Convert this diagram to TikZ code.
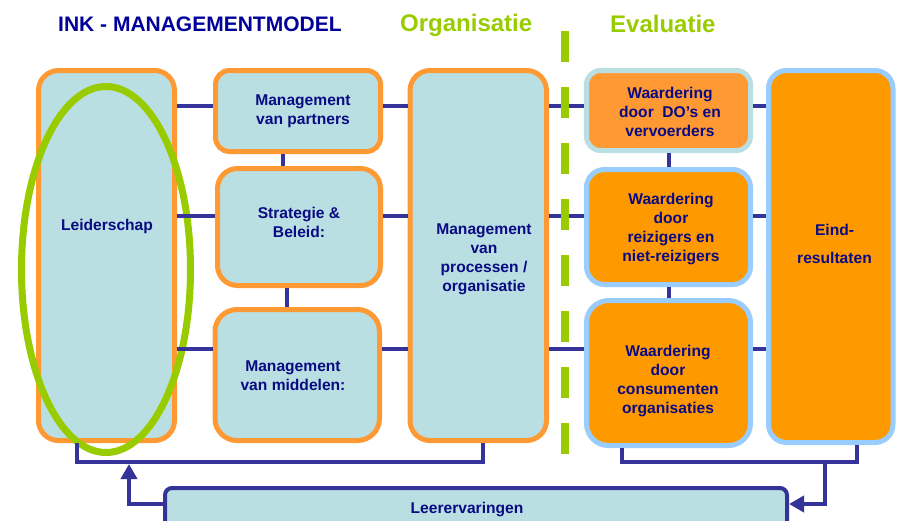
\documentclass[tikz,border=0pt]{standalone}
\usepackage{fontspec}
\setmainfont{Liberation Sans}
\usetikzlibrary{arrows.meta}
\definecolor{inkteal}{RGB}{185,223,227}
\definecolor{inkorange}{RGB}{255,153,51}
\definecolor{inkorfill}{RGB}{255,153,0}
\definecolor{inklblue}{RGB}{153,204,255}
\definecolor{inkline}{RGB}{51,51,153}
\definecolor{inktext}{RGB}{10,10,130}
\definecolor{inkgreen}{RGB}{153,204,0}
\definecolor{inktitle}{RGB}{0,0,153}
\tikzset{
  tealbox/.style={draw=inkorange, fill=inkteal, line width=5pt, inner sep=0pt},
  evalbox/.style={draw=inklblue, fill=inkorfill, line width=5pt, inner sep=0pt},
  dobox/.style={draw=inkteal, fill=inkorange, line width=5pt, inner sep=0pt},
  lbl/.style={text=inktext, font=\bfseries\fontsize{15.6}{19}\selectfont, align=center, inner sep=0pt},
  conn/.style={draw=inkline, line width=4pt},
  tip/.style={-{Triangle[width=16pt,length=15pt]}},
  greentitle/.style={anchor=base west, inner sep=0pt, text=inkgreen, font=\bfseries\fontsize{24}{28}\selectfont}
}
\begin{document}
\begin{tikzpicture}[x=1pt,y=-1pt]
\useasboundingbox (0,0) rectangle (899,520);
\clip (0,0) rectangle (899,520);
% titles
\node[anchor=base west, inner sep=0pt, text=inktitle, font=\bfseries\fontsize{21}{25}\selectfont] (title) at (58,31) {INK - MANAGEMENTMODEL};
\node[greentitle] (org) at (400,31) {Organisatie};
\node[greentitle] (eval) at (610,32) {Evaluatie};
% boxes
\node[tealbox, rounded corners=20pt, minimum width=136, minimum height=370] (lead) at (106.5,255.5) {};
\node[tealbox, rounded corners=14pt, minimum width=165, minimum height=81] (partners) at (298,111) {};
\node[tealbox, rounded corners=20pt, minimum width=163, minimum height=117] (strat) at (299,227) {};
\node[tealbox, rounded corners=22pt, minimum width=164.5, minimum height=131] (middel) at (297.25,375) {};
\node[tealbox, rounded corners=20pt, minimum width=136.5, minimum height=370] (proc) at (478.25,255.5) {};
\node[dobox, rounded corners=14pt, minimum width=164, minimum height=80] (do) at (668.5,110.5) {};
\node[evalbox, rounded corners=18pt, minimum width=164, minimum height=115] (reiz) at (668.5,227) {};
\node[evalbox, rounded corners=22pt, minimum width=164, minimum height=145] (cons) at (668.5,373) {};
\node[evalbox, rounded corners=18pt, minimum width=124.5, minimum height=372] (eind) at (830.75,256.5) {};
\node[draw=inkline, fill=inkteal, line width=4pt, rounded corners=7pt, inner sep=0pt, minimum width=622, minimum height=42] (leer) at (476,509) {};
% green ellipse
\draw[inkgreen, line width=7pt] (106,269.5) ellipse [x radius=84.5, y radius=183];
% helper coordinates
\coordinate (r1) at (0,106);
\coordinate (r2) at (0,216);
\coordinate (r3) at (0,349);
\coordinate (bot) at (0,462);
\coordinate (ly) at (0,504);
\coordinate (v1) at (283,0);
\coordinate (v2) at (287,0);
\coordinate (v3) at (669,0);
\coordinate (lb) at (77,0);
\coordinate (pb) at (483,0);
\coordinate (cb) at (622,0);
\coordinate (eb) at (857,0);
\coordinate (j) at (825,462);
\coordinate (la) at (129,0);
\coordinate (tipl) at (129,464);
% row connectors
\draw[conn] (lead.east |- r1) -- (partners.west |- r1);
\draw[conn] (partners.east |- r1) -- (proc.west |- r1);
\draw[conn] (proc.east |- r1) -- (do.west |- r1);
\draw[conn] (do.east |- r1) -- (eind.west |- r1);
\draw[conn] (lead.east |- r2) -- (strat.west |- r2);
\draw[conn] (strat.east |- r2) -- (proc.west |- r2);
\draw[conn] (proc.east |- r2) -- (reiz.west |- r2);
\draw[conn] (reiz.east |- r2) -- (eind.west |- r2);
\draw[conn] (lead.east |- r3) -- (middel.west |- r3);
\draw[conn] (middel.east |- r3) -- (proc.west |- r3);
\draw[conn] (proc.east |- r3) -- (cons.west |- r3);
\draw[conn] (cons.east |- r3) -- (eind.west |- r3);
% vertical connectors
\draw[conn] (partners.south -| v1) -- (strat.north -| v1);
\draw[conn] (strat.south -| v2) -- (middel.north -| v2);
\draw[conn] (do.south -| v3) -- (reiz.north -| v3);
\draw[conn] (reiz.south -| v3) -- (cons.north -| v3);
% feedback loops
\draw[conn] (lead.south -| lb) -- (lb |- bot) -- (pb |- bot) -- (proc.south -| pb);
\draw[conn] (cons.south -| cb) -- (cb |- bot) -- (eb |- bot) -- (eind.south -| eb);
\draw[conn, tip] (j) -- (j |- ly) -- (leer.east |- ly);
\draw[conn, tip] (leer.west |- ly) -- (la |- ly) -- (tipl);
% dashed separator
\coordinate (dtop) at (565,31);
\coordinate (dbot) at (565,455);
\draw[inkgreen, line width=8pt, dash pattern=on 31pt off 25pt] (dtop) -- (dbot);
% labels
\node[lbl, anchor=base] (tlead) at (107,230) {Leiderschap};
\node[lbl] (tpartners) at (303,111.5) {Management\\van partners};
\node[lbl] (tstrat) at (299,222) {Strategie \&\\Beleid:};
\node[lbl] (tmiddel) at (293,375.5) {Management\\van middelen:};
\node[lbl] (tproc) at (484,259) {Management\\van\\processen /\\organisatie};
\node[lbl] (tdo) at (670,111.5) {Waardering\\door~~DO’s en\\vervoerders};
\node[lbl] (treiz) at (671,229) {Waardering\\door\\reizigers en\\niet-reizigers};
\node[lbl] (tcons) at (668,380.5) {Waardering\\door\\consumenten\\organisaties};
\node[lbl] (teind) at (834.5,243.5) {Eind-\\[9pt]resultaten};
\node[lbl, anchor=base] (tleer) at (467,513) {Leerervaringen};
\end{tikzpicture}
\end{document}
